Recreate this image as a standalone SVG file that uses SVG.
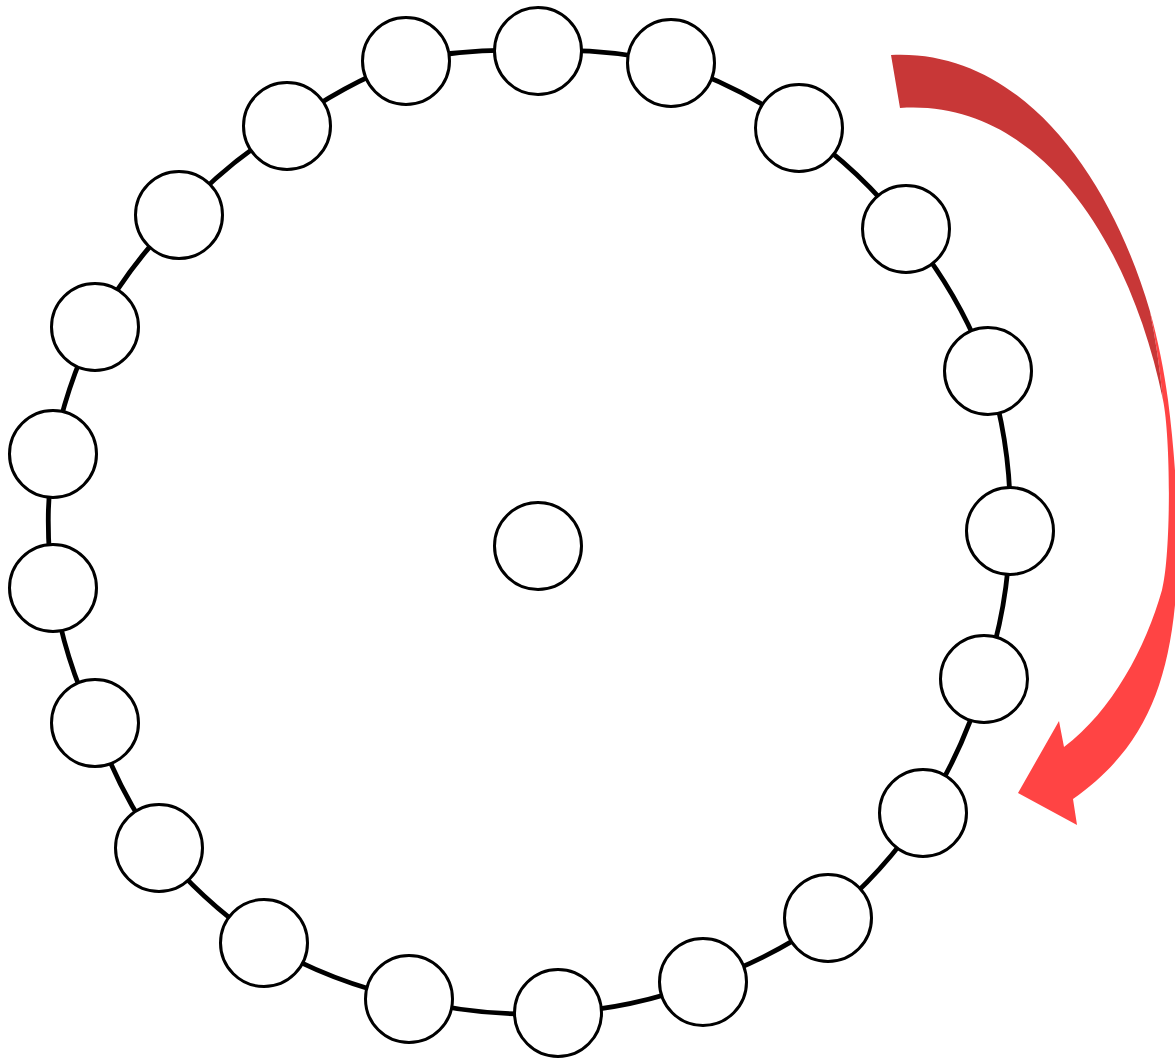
<svg xmlns="http://www.w3.org/2000/svg" width="1175" height="1062" viewBox="0 0 1175 1062">
  <style>
    .node { fill: #ffffff; stroke: #000000; stroke-width: 3; }
    .link { fill: none; stroke: #000000; stroke-width: 4.8; }
  </style>
  <rect x="0" y="0" width="1175" height="1062" fill="#ffffff"/>
  <g id="connectors">
    <path class="link" d="M538,51 A480,480 0 0 1 671,63"/>
    <path class="link" d="M671,63 A480,480 0 0 1 799,128"/>
    <path class="link" d="M799,128 A480,480 0 0 1 906,229"/>
    <path class="link" d="M906,229 A480,480 0 0 1 988,371"/>
    <path class="link" d="M988,371 A480,480 0 0 1 1010,531"/>
    <path class="link" d="M1010,531 A480,480 0 0 1 984,679"/>
    <path class="link" d="M984,679 A480,480 0 0 1 923,813"/>
    <path class="link" d="M923,813 A480,480 0 0 1 828,918"/>
    <path class="link" d="M828,918 A480,480 0 0 1 703,982"/>
    <path class="link" d="M703,982 A480,480 0 0 1 558,1013"/>
    <path class="link" d="M558,1013 A480,480 0 0 1 409,999"/>
    <path class="link" d="M409,999 A480,480 0 0 1 264,943"/>
    <path class="link" d="M264,943 A480,480 0 0 1 159,848"/>
    <path class="link" d="M159,848 A480,480 0 0 1 95,723"/>
    <path class="link" d="M95,723 A480,480 0 0 1 53,588"/>
    <path class="link" d="M53,588 A480,480 0 0 1 53,454"/>
    <path class="link" d="M53,454 A480,480 0 0 1 95,327"/>
    <path class="link" d="M95,327 A480,480 0 0 1 179,215"/>
    <path class="link" d="M179,215 A480,480 0 0 1 287,126"/>
    <path class="link" d="M287,126 A480,480 0 0 1 406,61"/>
    <path class="link" d="M406,61 A480,480 0 0 1 538,51"/>
  </g>
  <g id="node-1"><circle class="node" cx="538" cy="51" r="43.5"/></g>
  <g id="node-2"><circle class="node" cx="671" cy="63" r="43.5"/></g>
  <g id="node-3"><circle class="node" cx="799" cy="128" r="43.5"/></g>
  <g id="node-4"><circle class="node" cx="906" cy="229" r="43.5"/></g>
  <g id="node-5"><circle class="node" cx="988" cy="371" r="43.5"/></g>
  <g id="node-6"><circle class="node" cx="1010" cy="531" r="43.5"/></g>
  <g id="node-7"><circle class="node" cx="984" cy="679" r="43.5"/></g>
  <g id="node-8"><circle class="node" cx="923" cy="813" r="43.5"/></g>
  <g id="node-9"><circle class="node" cx="828" cy="918" r="43.5"/></g>
  <g id="node-10"><circle class="node" cx="703" cy="982" r="43.5"/></g>
  <g id="node-11"><circle class="node" cx="558" cy="1013" r="43.5"/></g>
  <g id="node-12"><circle class="node" cx="409" cy="999" r="43.5"/></g>
  <g id="node-13"><circle class="node" cx="264" cy="943" r="43.5"/></g>
  <g id="node-14"><circle class="node" cx="159" cy="848" r="43.5"/></g>
  <g id="node-15"><circle class="node" cx="95" cy="723" r="43.5"/></g>
  <g id="node-16"><circle class="node" cx="53" cy="588" r="43.5"/></g>
  <g id="node-17"><circle class="node" cx="53" cy="454" r="43.5"/></g>
  <g id="node-18"><circle class="node" cx="95" cy="327" r="43.5"/></g>
  <g id="node-19"><circle class="node" cx="179" cy="215" r="43.5"/></g>
  <g id="node-20"><circle class="node" cx="287" cy="126" r="43.5"/></g>
  <g id="node-21"><circle class="node" cx="406" cy="61" r="43.5"/></g>
  <g id="node-center"><circle class="node" cx="538" cy="546" r="43.5"/></g>
  <g id="rotation-arrow">
    <path fill="#ff4444" d="M1149.9,310.9 C1158.06,340.34 1164.26,371.2 1168,400 C1177.1,470 1180.5,550 1175,605 C1166,695 1138.6,752.6 1073,799 L1077,825 L1018,793 L1059,721 L1064,747 C1112,711 1145.8,647.6 1162,590 C1171,555 1171,439 1163,400 Q1158,350 1149.9,310.9 Z"/>
    <path fill="#c83737" d="M891,55 C1022.2,48.44 1110.5,177.04 1149.9,310.9 Q1158,350 1163,400 C1131,243.2 1040,98.2 900,108 Z"/>
  </g>
</svg>
